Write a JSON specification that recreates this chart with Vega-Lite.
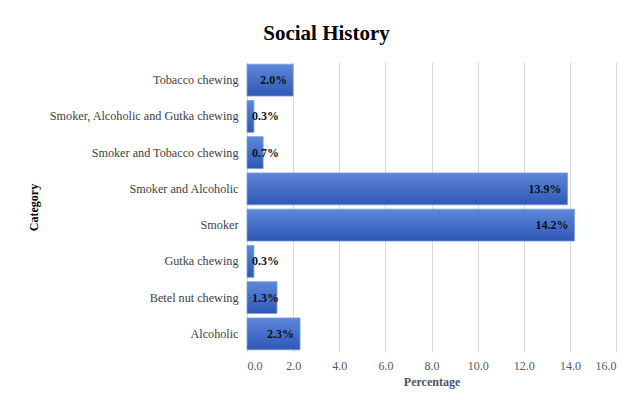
{
  "$schema": "https://vega.github.io/schema/vega-lite/v6.json",
  "width": 369,
  "height": 290,
  "autosize": {"type": "none"},
  "padding": {"left": 247, "top": 62, "right": 14, "bottom": 48},
  "background": "white",
  "title": {
    "text": "Social History",
    "font": "Liberation Serif",
    "fontSize": 21,
    "fontWeight": "bold",
    "color": "#000000",
    "anchor": "middle",
    "frame": "group",
    "dx": -105,
    "offset": 18
  },
  "data": {
    "values": [
      {"category": "Tobacco chewing", "value": 2.0, "label": "2.0%"},
      {"category": "Smoker, Alcoholic and Gutka chewing", "value": 0.3, "label": "0.3%"},
      {"category": "Smoker and Tobacco chewing", "value": 0.7, "label": "0.7%"},
      {"category": "Smoker and Alcoholic", "value": 13.9, "label": "13.9%"},
      {"category": "Smoker", "value": 14.2, "label": "14.2%"},
      {"category": "Gutka chewing", "value": 0.3, "label": "0.3%"},
      {"category": "Betel nut chewing", "value": 1.3, "label": "1.3%"},
      {"category": "Alcoholic", "value": 2.3, "label": "2.3%"}
    ]
  },
  "encoding": {
    "y": {
      "field": "category",
      "type": "nominal",
      "sort": null,
      "scale": {"paddingInner": 0.12, "paddingOuter": 0.06},
      "axis": {
        "title": "Category",
        "titleFont": "Liberation Serif",
        "titleFontSize": 12,
        "titleFontWeight": "bold",
        "titleColor": "#000000",
        "titlePadding": 8,
        "labelFont": "Liberation Serif",
        "labelFontSize": 12.2,
        "labelColor": "#404040",
        "labelPadding": 9,
        "labelLimit": 300,
        "ticks": false,
        "domain": false,
        "grid": false
      }
    }
  },
  "layer": [
    {
      "mark": {
        "type": "bar",
        "color": {
          "gradient": "linear",
          "x1": 0, "y1": 0, "x2": 0, "y2": 1,
          "stops": [
            {"offset": 0, "color": "#5d87d9"},
            {"offset": 1, "color": "#2f58b6"}
          ]
        },
        "stroke": "#7c9de0",
        "strokeWidth": 0.8
      },
      "encoding": {
        "x": {
          "field": "value",
          "type": "quantitative",
          "scale": {"domain": [0, 16], "nice": false},
          "axis": {
            "title": "Percentage",
            "titleFont": "Liberation Serif",
            "titleFontSize": 12,
            "titleFontWeight": "bold",
            "titleColor": "#44546a",
            "titlePadding": 5,
            "labelFont": "Liberation Serif",
            "labelFontSize": 12,
            "labelColor": "#595959",
            "labelPadding": 8,
            "values": [0, 2, 4, 6, 8, 10, 12, 14, 16],
            "format": ".1f",
            "ticks": false,
            "domain": false,
            "grid": true,
            "gridColor": "#d9d9d9",
            "gridWidth": 1
          }
        }
      }
    },
    {
      "transform": [{"filter": "datum.value >= 1.5"}],
      "mark": {
        "type": "text",
        "align": "right",
        "baseline": "middle",
        "dx": -6,
        "font": "Liberation Serif",
        "fontSize": 12,
        "fontWeight": "bold",
        "color": "#111111"
      },
      "encoding": {
        "x": {"field": "value", "type": "quantitative"},
        "text": {"field": "label", "type": "nominal"}
      }
    },
    {
      "transform": [{"filter": "datum.value < 1.5"}],
      "mark": {
        "type": "text",
        "align": "left",
        "baseline": "middle",
        "dx": 5,
        "font": "Liberation Serif",
        "fontSize": 12,
        "fontWeight": "bold",
        "color": "#111111"
      },
      "encoding": {
        "x": {"datum": 0, "type": "quantitative"},
        "text": {"field": "label", "type": "nominal"}
      }
    }
  ],
  "config": {"view": {"stroke": null}}
}
